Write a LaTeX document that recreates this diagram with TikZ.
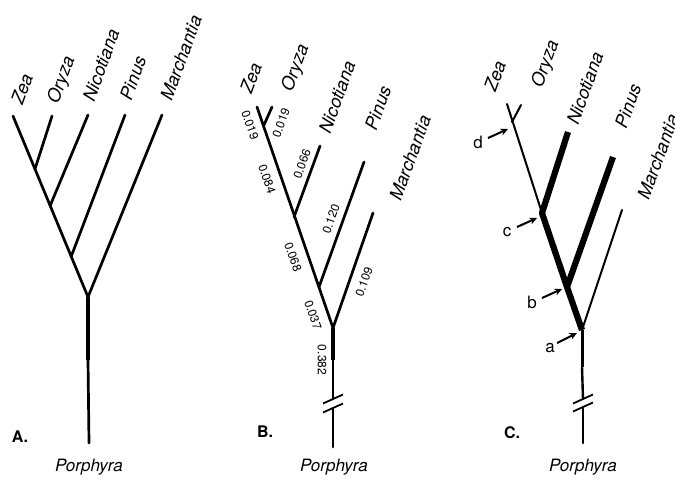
\documentclass[tikz,border=0pt]{standalone}
\usepackage{fontspec}
\setmainfont{TeX Gyre Heros}
\usetikzlibrary{arrows.meta}

\begin{document}
\begin{tikzpicture}[x=1pt,y=-1pt,
  taxon/.style={font=\fontsize{18}{18}\selectfont\itshape, rotate=70, inner sep=0pt},
  blenL/.style={font=\fontsize{12}{12}\selectfont, rotate=-71, inner sep=0pt},
  blenR/.style={font=\fontsize{12}{12}\selectfont, rotate=70, inner sep=0pt},
  blenV/.style={font=\fontsize{12}{12}\selectfont, rotate=-90, inner sep=0pt},
  outgroup/.style={font=\fontsize{17}{17}\selectfont\itshape, inner sep=0pt},
  panel/.style={font=\fontsize{16}{16}\selectfont\bfseries, inner sep=0pt},
  pointer/.style={font=\fontsize{17}{17}\selectfont, inner sep=0pt},
  branch/.style={line width=2.7pt, line cap=round, line join=round},
  trunk/.style={line width=3.2pt},
  slim/.style={line width=2pt, line cap=round, line join=round},
  heavy/.style={line width=6.2pt, line join=round},
  cut/.style={line width=1.8pt},
  hit/.style={line width=2pt, -{Stealth[length=7.5pt,width=7pt]}}
]
\clip (0,0) rectangle (675,480);

% ---------- tree A ----------
\coordinate (aZ) at (13,116);
\coordinate (aO) at (52,116);
\coordinate (aN) at (88,115);
\coordinate (aP) at (125,115);
\coordinate (aM) at (162,115);
\coordinate (aZO) at (35,169);
\coordinate (aNn) at (50,206);
\coordinate (aPn) at (71,257);
\coordinate (aR) at (88,297);
\coordinate (aS) at (88,360);
\coordinate (aE) at (89,443);
\draw[branch] (aZ) -- (aR);
\draw[branch] (aO) -- (aZO);
\draw[branch] (aN) -- (aNn);
\draw[branch] (aP) -- (aPn);
\draw[branch] (aM) -- (aR);
\draw[trunk] (aR) -- (aS);
\draw[branch] (aS) -- (aE);
\node[taxon] (aZl) at (22,89) {Zea};
\node[taxon] (aOl) at (62,80) {Oryza};
\node[taxon] (aNl) at (101,65) {Nicotiana};
\node[taxon] (aPl) at (133,78) {Pinus};
\node[taxon] (aMl) at (181,58) {Marchantia};
\node[outgroup] (aRl) at (89,467) {Porphyra};
\node[panel] (aTag) at (20,437) {A.};

% ---------- tree B ----------
\coordinate (bZ) at (257,107);
\coordinate (bO) at (272,107);
\coordinate (bN) at (320,146);
\coordinate (bP) at (364,162);
\coordinate (bM) at (373,213);
\coordinate (bZO) at (263.5,126);
\coordinate (bNn) at (294,217);
\coordinate (bPn) at (319,287);
\coordinate (bR) at (333,328);
\coordinate (bS) at (333,360);
\coordinate (bB1) at (333,399);
\coordinate (bB2) at (333,408);
\coordinate (bE) at (333,447);
\draw[branch] (bZ) -- (bR);
\draw[branch] (bO) -- (bZO);
\draw[branch] (bN) -- (bNn);
\draw[branch] (bP) -- (bPn);
\draw[branch] (bM) -- (bR);
\draw[trunk] (bR) -- (bS);
\draw[branch] (bS) -- (bB1);
\draw[branch] (bB2) -- (bE);
\draw[cut] ([shift={(-10,4.5)}]bB1) -- ([shift={(10,-4.5)}]bB1);
\draw[cut] ([shift={(-10,4.5)}]bB2) -- ([shift={(10,-4.5)}]bB2);
\node[taxon] (bZl) at (251,78) {Zea};
\node[taxon] (bOl) at (296,68) {Oryza};
\node[taxon] (bNl) at (337,97) {Nicotiana};
\node[taxon] (bPl) at (378,108) {Pinus};
\node[taxon] (bMl) at (410,158) {Marchantia};
\node[blenL] (bl1) at (250,125) {0.019};
\node[blenR] (bl2) at (281,123) {0.019};
\node[blenL] (bl3) at (267,179) {0.084};
\node[blenR] (bl4) at (302,164) {0.066};
\node[blenR] (bl5) at (331,219) {0.120};
\node[blenL] (bl6) at (293,257) {0.068};
\node[blenR] (bl7) at (364,282) {0.109};
\node[blenL] (bl8) at (313,315) {0.037};
\node[blenV] (bl9) at (322,360) {0.382};
\node[outgroup] (bRl) at (334,467) {Porphyra};
\node[panel] (bTag) at (265,432) {B.};

% ---------- tree C ----------
\coordinate (cZ) at (507,104);
\coordinate (cO) at (521,105);
\coordinate (cN) at (568,132);
\coordinate (cP) at (613,157);
\coordinate (cM) at (622,210);
\coordinate (cZO) at (512,122);
\coordinate (cC) at (542,213);
\coordinate (cB) at (567,287);
\coordinate (cA) at (582,330);
\coordinate (cS) at (582,367);
\coordinate (cB1) at (583,399);
\coordinate (cB2) at (583,407);
\coordinate (cE) at (583,443);
\draw[slim] (cZ) -- (cC);
\draw[slim] (cO) -- (cZO);
\draw[slim] (cM) -- (cA);
\draw[heavy] (cN) -- (cC) -- (cB) -- (cA);
\draw[heavy] (cP) -- (cB);
\draw[trunk, line width=3pt] (cA) -- (cS);
\draw[branch, line width=2.4pt] (cS) -- (cB1);
\draw[branch, line width=2.4pt] (cB2) -- (cE);
\draw[cut] ([shift={(-10,4.5)}]cB1) -- ([shift={(10,-4.5)}]cB1);
\draw[cut] ([shift={(-10,4.5)}]cB2) -- ([shift={(10,-4.5)}]cB2);
\node[taxon] (cZl) at (495,76) {Zea};
\node[taxon] (cOl) at (546,64) {Oryza};
\node[taxon] (cNl) at (585,88) {Nicotiana};
\node[taxon] (cPl) at (628,106) {Pinus};
\node[taxon] (cMl) at (658,157) {Marchantia};
\node[pointer] (pd) at (478,142) {d};
\node[pointer] (pc) at (507,232) {c};
\node[pointer] (pb) at (532,302) {b};
\node[pointer] (pa) at (550,348) {a};
\coordinate (dT) at (488,138); \coordinate (dH) at (508,129);
\coordinate (cT) at (517,227); \coordinate (cH) at (537,218);
\coordinate (bT) at (542,298); \coordinate (bH) at (562,289);
\coordinate (aT) at (557,343); \coordinate (aH) at (577,333);
\draw[hit] (dT) -- (dH);
\draw[hit] (cT) -- (cH);
\draw[hit] (bT) -- (bH);
\draw[hit] (aT) -- (aH);
\node[outgroup] (cRl) at (583,467) {Porphyra};
\node[panel] (cTag) at (512,433) {C.};
\end{tikzpicture}
\end{document}
